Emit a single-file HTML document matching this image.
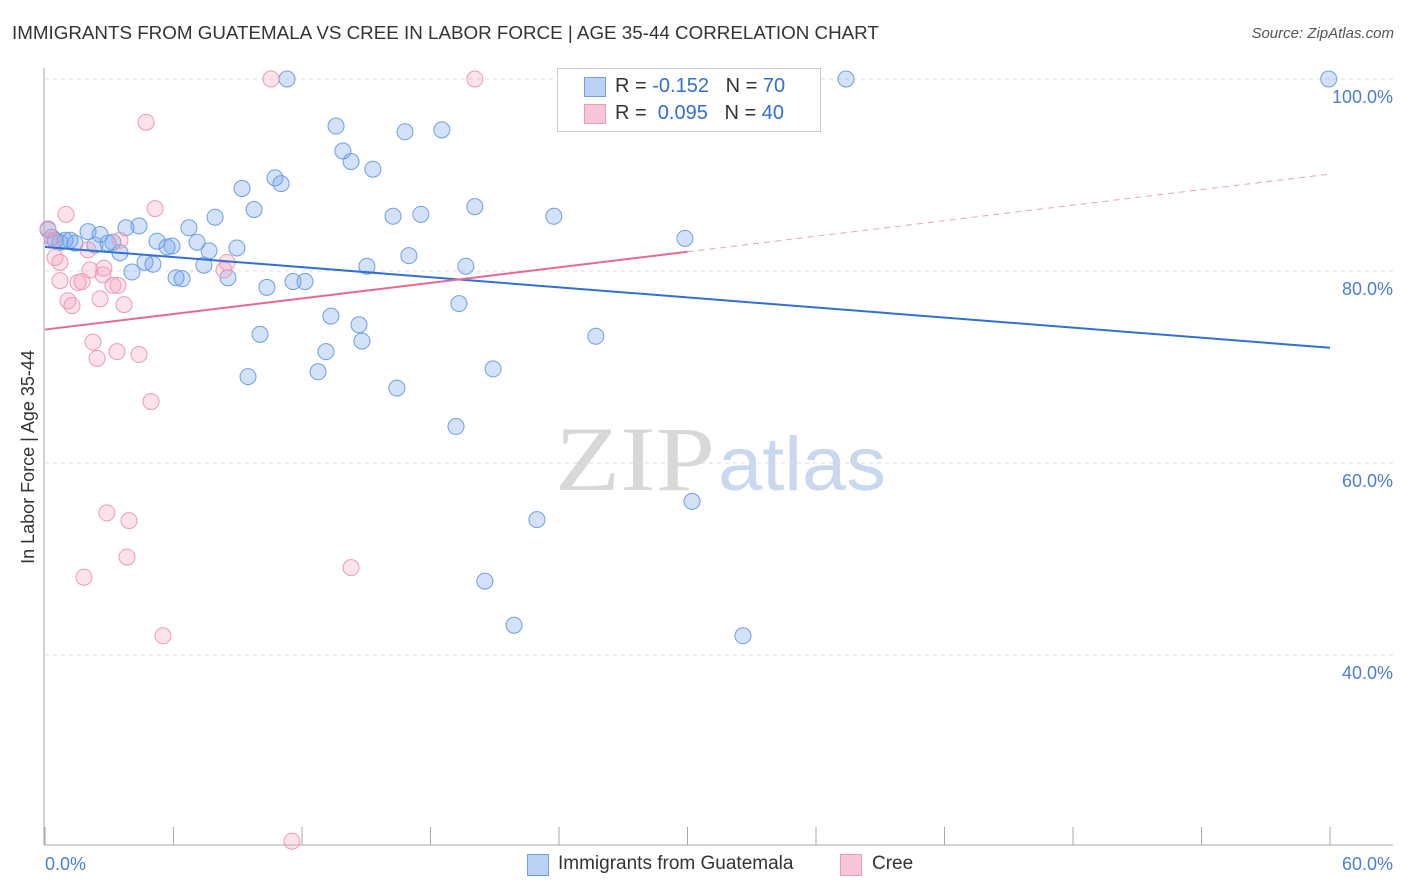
<!DOCTYPE html>
<html><head><meta charset="utf-8"><style>
body{margin:0;background:#fff;font-family:"Liberation Sans",sans-serif;}
#wrap{position:relative;width:1406px;height:892px;overflow:hidden;}
.t{position:absolute;white-space:nowrap;}
</style></head><body>
<div id="wrap">
<div class="t" style="left:12px;top:22px;font-size:18.8px;color:#333;">IMMIGRANTS FROM GUATEMALA VS CREE IN LABOR FORCE | AGE 35-44 CORRELATION CHART</div>
<div class="t" style="right:12px;top:25px;font-size:15px;color:#555;font-style:italic;">Source: ZipAtlas.com</div>
<svg id="svg" width="1406" height="892" style="position:absolute;left:0;top:0;"></svg>
</div>
<script>
const blueX=[0.14,0.33,0.47,0.70,0.93,1.17,1.40,2.01,2.33,2.57,2.94,3.17,3.50,3.78,4.06,4.39,4.67,5.04,5.23,5.70,5.93,6.12,6.40,6.72,7.10,7.42,7.66,7.94,8.54,8.96,9.20,9.48,9.76,10.04,10.36,10.74,11.02,11.30,11.58,12.14,12.75,13.12,13.35,13.59,13.91,14.29,14.66,14.80,15.03,15.31,16.25,16.43,16.81,16.99,17.55,18.53,19.19,19.33,19.65,20.07,20.54,20.92,21.90,22.97,23.76,25.72,29.88,30.21,32.59,37.40,59.94];
const blueY=[84.3,83.5,83.2,83.0,83.2,83.2,82.9,84.1,82.7,83.8,82.9,83.0,81.9,84.5,79.9,84.7,80.9,80.7,83.1,82.5,82.6,79.3,79.2,84.5,83.0,80.6,82.1,85.6,79.3,82.4,88.6,69.0,86.4,73.4,78.3,89.7,89.1,100,78.9,78.9,69.5,71.6,75.3,95.1,92.5,91.4,74.4,72.7,80.5,90.6,85.7,67.8,94.5,81.6,85.9,94.7,63.8,76.6,80.5,86.7,47.7,69.8,43.1,54.1,85.7,73.2,83.4,56.0,42.0,100,100];
const pinkX=[0.14,0.33,0.47,0.70,0.70,0.98,1.07,1.26,1.54,1.73,1.82,2.01,2.10,2.24,2.43,2.57,2.71,2.75,2.89,3.17,3.36,3.41,3.50,3.69,3.83,3.92,4.39,4.72,4.95,5.14,5.51,8.36,8.50,10.55,11.53,14.29,20.07];
const pinkY=[84.4,83.2,81.4,80.9,79.0,85.9,76.9,76.4,78.8,78.9,48.1,82.2,80.1,72.6,70.9,77.1,79.6,80.3,54.8,78.5,71.6,78.5,83.2,76.5,50.2,54.0,71.3,95.5,66.4,86.5,42.0,80.1,80.9,100,20.6,49.1,100];
const blueTrend=[82.5,72.0];
const pinkTrend=[73.9,82.0,90.1];
const yTicks=[40,60,80,100];
const yTickLabels=["40.0%","60.0%","80.0%","100.0%"];
const xTicks=[0,6,12,18,24,30,36,42,48,54,60];

const X=v=>45+v*21.417;
const Y=v=>79+(100-v)*9.6;
const svg=document.getElementById('svg');
const NS='http://www.w3.org/2000/svg';
function mk(tag,a,p){const e=document.createElementNS(NS,tag);for(const k in a)e.setAttribute(k,a[k]);(p||svg).appendChild(e);return e;}

let wm=mk('text',{x:555,y:490,'font-size':92,'font-family':'Liberation Serif',fill:'#d8d8d8',textLength:160,lengthAdjust:'spacingAndGlyphs'});wm.textContent='ZIP';


let wm2=mk('text',{x:718,y:490,'font-size':76,'font-family':'Liberation Sans',fill:'#c8d8ee',textLength:168,lengthAdjust:'spacingAndGlyphs'});wm2.textContent='atlas';



yTicks.forEach((t,i)=>{
  const g=mk('line',{x1:45,x2:1393,y1:Y(t),y2:Y(t),stroke:'#ddd','stroke-dasharray':'4,4'});
  
  
  const l=mk('text',{x:1393,y:Y(t)+24,'text-anchor':'end','font-size':18,fill:'#4a7fd4'});
  l.textContent=yTickLabels[i];
  
  
});
mk('line',{x1:44,x2:44,y1:68,y2:845,stroke:'#aaa'});
mk('line',{x1:44,x2:1393,y1:845,y2:845,stroke:'#aaa'});
xTicks.forEach(t=>{
  const k=mk('line',{x1:X(t),x2:X(t),y1:827,y2:845,stroke:'#aaa'});
  
  
});
let xl=mk('text',{x:45,y:870,'font-size':18,fill:'#4a7fd4'});xl.textContent='0.0%';


let xr=mk('text',{x:1393,y:870,'font-size':18,fill:'#4a7fd4','text-anchor':'end'});xr.textContent='60.0%';


let yt=mk('text',{x:0,y:0,'font-size':18,fill:'#333','text-anchor':'middle',transform:'translate(34,457) rotate(-90)'});yt.textContent='In Labor Force | Age 35-44';



blueX.forEach((x,i)=>{
  const c=mk('circle',{cx:X(x),cy:Y(blueY[i]),r:8,fill:'rgba(110,160,235,0.3)',stroke:'#6d9fe3','stroke-width':1});
  
  
});
pinkX.forEach((x,i)=>{
  const c=mk('circle',{cx:X(x),cy:Y(pinkY[i]),r:8,fill:'rgba(245,160,190,0.3)',stroke:'#ec9ab8','stroke-width':1});
  
  
});
let bt=mk('line',{x1:X(0),y1:Y(blueTrend[0]),x2:X(60),y2:Y(blueTrend[1]),stroke:'#2f6fd6','stroke-width':2});


let pt=mk('line',{x1:X(0),y1:Y(pinkTrend[0]),x2:X(30),y2:Y(pinkTrend[1]),stroke:'#e8679a','stroke-width':2});


let pd=mk('line',{x1:X(30),y1:Y(pinkTrend[1]),x2:X(60),y2:Y(pinkTrend[2]),stroke:'#e8a0bc','stroke-width':1,'stroke-dasharray':'6,5'});


</script>
<div class="t" style="left:557px;top:68px;width:262px;height:62px;border:1px solid #ccc;background:#fff;">
 <div class="t" style="left:26px;top:8px;width:20px;height:18px;background:#b9d2f5;border:1px solid #6d9fe3;"></div>
 <div class="t" style="left:57px;top:6px;font-size:20px;color:#333;">R = <span style="color:#2f6fd6">-0.152</span>&nbsp;&nbsp;&nbsp;N = <span style="color:#2f6fd6">70</span></div>
 <div class="t" style="left:26px;top:35px;width:20px;height:18px;background:#f8c7d7;border:1px solid #ec9ab8;"></div>
 <div class="t" style="left:57px;top:33px;font-size:20px;color:#333;">R = &nbsp;<span style="color:#2f6fd6">0.095</span>&nbsp;&nbsp;&nbsp;N = <span style="color:#2f6fd6">40</span></div>
</div>
<div class="t" style="left:527px;top:854px;width:20px;height:20px;background:#b9d2f5;border:1px solid #6d9fe3;"></div>
<div class="t" style="left:558px;top:853px;font-size:19px;color:#333;">Immigrants from Guatemala</div>
<div class="t" style="left:840px;top:854px;width:20px;height:20px;background:#f8c7d7;border:1px solid #ec9ab8;"></div>
<div class="t" style="left:872px;top:853px;font-size:19px;color:#333;">Cree</div>
</body></html>
